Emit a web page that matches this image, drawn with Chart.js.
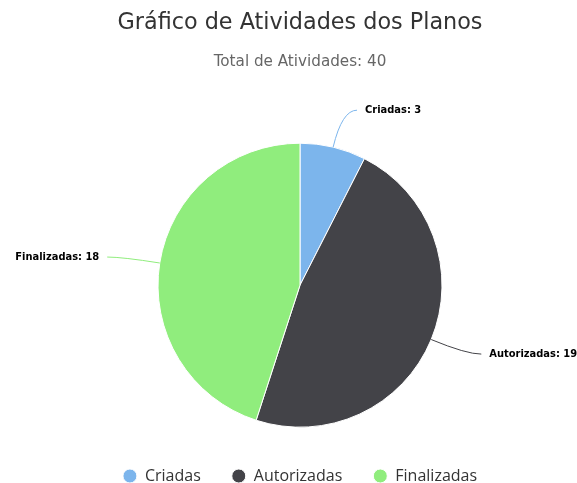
<!DOCTYPE html>
<html>
<head>
<meta charset="utf-8">
<script src="https://cdn.jsdelivr.net/npm/chart.js@4"></script>
<style>
  html, body { margin: 0; padding: 0; background: #fff; }
  #wrap { width: 577px; height: 483px; }
</style>
</head>
<body>
<div id="wrap"><canvas id="planosChart"></canvas></div>
<script>
const categories = ['Criadas', 'Autorizadas', 'Finalizadas'];
const values = [3, 19, 18];
const sliceColors = ['#7cb5ec', '#434348', '#90ed7d'];
const titleText = 'Gráfico de Atividades dos Planos';
const subtitleText = 'Total de Atividades: 40';

// labels outside the pie with a bent connector, like the original
const outsideLabels = {
    id: 'outsideLabels',
    afterDatasetsDraw(chart) {
        const ctx = chart.ctx;
        const meta = chart.getDatasetMeta(0);
        const dist = 38;
        ctx.save();
        ctx.font = 'bold 11px "DejaVu Sans Condensed", "DejaVu Sans", sans-serif';
        ctx.textBaseline = 'middle';
        meta.data.forEach((arc, i) => {
            const mid = (arc.startAngle + arc.endAngle) / 2;
            const r = arc.outerRadius;
            const cos = Math.cos(mid), sin = Math.sin(mid);
            const side = cos >= 0 ? 1 : -1;
            const sx = arc.x + cos * r, sy = arc.y + sin * r;
            const ox = arc.x + cos * (r + dist), oy = arc.y + sin * (r + dist);
            const ex = ox + side * 15;

            ctx.strokeStyle = sliceColors[i];
            ctx.lineWidth = 1;
            ctx.beginPath();
            ctx.moveTo(sx, sy);
            ctx.quadraticCurveTo(ox, oy, ex, oy);
            ctx.stroke();

            const text = categories[i] + ': ' + values[i];
            ctx.textAlign = side > 0 ? 'left' : 'right';
            const tx = ex + side * 8;
            ctx.lineJoin = 'round';
            ctx.lineWidth = 3;
            ctx.strokeStyle = '#ffffff';
            ctx.strokeText(text, tx, oy);
            ctx.fillStyle = '#000000';
            ctx.fillText(text, tx, oy);
        });
        ctx.restore();
    }
};

new Chart(document.getElementById('planosChart'), {
    type: 'pie',
    data: {
        labels: categories,
        datasets: [{
            data: values,
            backgroundColor: sliceColors,
            borderColor: '#ffffff',
            borderWidth: 1,
            hoverOffset: 0,
            radius: 142
        }]
    },
    options: {
        responsive: true,
        maintainAspectRatio: false,
        animation: false,
        layout: {
            padding: { left: 23, right: 0, top: 0, bottom: -11 }
        },
        plugins: {
            title: {
                display: true,
                text: titleText,
                color: '#333333',
                font: { family: '"DejaVu Sans", sans-serif', size: 22.3, weight: 'normal' },
                padding: { top: 10, bottom: 16.4 }
            },
            subtitle: {
                display: true,
                text: subtitleText,
                color: '#666666',
                font: { family: '"DejaVu Sans", sans-serif', size: 15.2, weight: 'normal' },
                padding: { top: 0, bottom: 62 }
            },
            legend: {
                position: 'bottom',
                labels: {
                    usePointStyle: true,
                    pointStyle: 'circle',
                    boxWidth: 14,
                    boxHeight: 9.9,
                    padding: 31,
                    color: '#333333',
                    font: { family: '"Open Sans", sans-serif', size: 16 }
                }
            },
            tooltip: { enabled: false }
        }
    },
    plugins: [outsideLabels]
});
</script>
</body>
</html>
